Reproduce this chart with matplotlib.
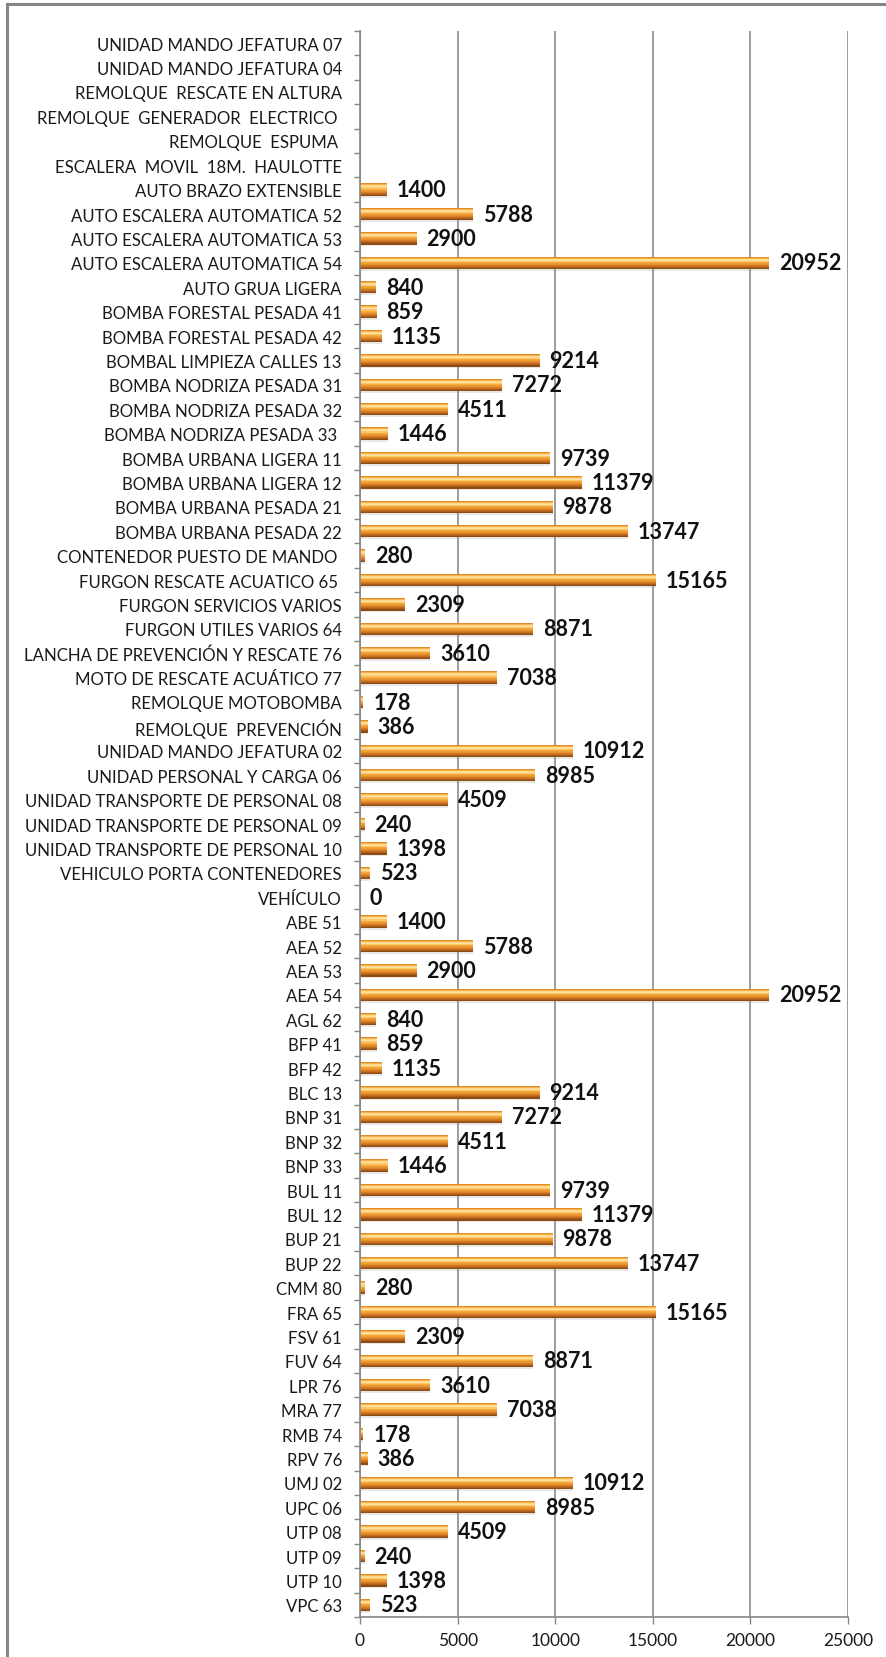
import matplotlib.pyplot as plt
import numpy as np
from matplotlib.lines import Line2D

categories = [
    'UNIDAD MANDO JEFATURA 07',
    'UNIDAD MANDO JEFATURA 04',
    'REMOLQUE  RESCATE EN ALTURA',
    'REMOLQUE  GENERADOR  ELECTRICO ',
    'REMOLQUE  ESPUMA ',
    'ESCALERA  MOVIL  18M.  HAULOTTE',
    'AUTO BRAZO EXTENSIBLE',
    'AUTO ESCALERA AUTOMATICA 52',
    'AUTO ESCALERA AUTOMATICA 53',
    'AUTO ESCALERA AUTOMATICA 54',
    'AUTO GRUA LIGERA',
    'BOMBA FORESTAL PESADA 41',
    'BOMBA FORESTAL PESADA 42',
    'BOMBAL LIMPIEZA CALLES 13',
    'BOMBA NODRIZA PESADA 31',
    'BOMBA NODRIZA PESADA 32',
    'BOMBA NODRIZA PESADA 33 ',
    'BOMBA URBANA LIGERA 11',
    'BOMBA URBANA LIGERA 12',
    'BOMBA URBANA PESADA 21',
    'BOMBA URBANA PESADA 22',
    'CONTENEDOR PUESTO DE MANDO ',
    'FURGON RESCATE ACUATICO 65 ',
    'FURGON SERVICIOS VARIOS',
    'FURGON UTILES VARIOS 64',
    'LANCHA DE PREVENCIÓN Y RESCATE 76',
    'MOTO DE RESCATE ACUÁTICO 77',
    'REMOLQUE MOTOBOMBA',
    'REMOLQUE  PREVENCIÓN',
    'UNIDAD MANDO JEFATURA 02',
    'UNIDAD PERSONAL Y CARGA 06',
    'UNIDAD TRANSPORTE DE PERSONAL 08',
    'UNIDAD TRANSPORTE DE PERSONAL 09',
    'UNIDAD TRANSPORTE DE PERSONAL 10',
    'VEHICULO PORTA CONTENEDORES',
    'VEHÍCULO',
    'ABE 51', 'AEA 52', 'AEA 53', 'AEA 54', 'AGL 62', 'BFP 41', 'BFP 42',
    'BLC 13', 'BNP 31', 'BNP 32', 'BNP 33', 'BUL 11', 'BUL 12', 'BUP 21',
    'BUP 22', 'CMM 80', 'FRA 65', 'FSV 61', 'FUV 64', 'LPR 76', 'MRA 77',
    'RMB 74', 'RPV 76', 'UMJ 02', 'UPC 06', 'UTP 08', 'UTP 09', 'UTP 10',
    'VPC 63',
]

# first six vehicles have no value at all (blank in the chart)
values = [None, None, None, None, None, None,
          1400, 5788, 2900, 20952, 840, 859, 1135, 9214, 7272, 4511, 1446,
          9739, 11379, 9878, 13747, 280, 15165, 2309, 8871, 3610, 7038,
          178, 386, 10912, 8985, 4509, 240, 1398, 523, 0,
          1400, 5788, 2900, 20952, 840, 859, 1135, 9214, 7272, 4511, 1446,
          9739, 11379, 9878, 13747, 280, 15165, 2309, 8871, 3610, 7038,
          178, 386, 10912, 8985, 4509, 240, 1398, 523]

xticks = [0, 5000, 10000, 15000, 20000, 25000]

W, H = 887, 1658
fig = plt.figure(figsize=(W / 100, H / 100), dpi=100)
ax = fig.add_axes([360 / W, 1 - 1618 / H, 488 / W, 1586 / H])

y = np.arange(len(categories))
vals = np.array([np.nan if v is None else v for v in values], dtype=float)
v = np.nan_to_num(vals)

# cylinder look: soft shadow, then thin horizontal slices from top to bottom
bar_h = 0.5
ax.barh(y + 0.08, v, height=bar_h, color='#9a9a9a', alpha=0.22, linewidth=0)
profile = ['#E08A28', '#F6B24A', '#FFD88A', '#FFE0A0', '#FBC666', '#F4A83E',
           '#EE9C34', '#E58F2D', '#D67E26', '#C26D20', '#A95C19', '#8E4C14']
sl = bar_h / len(profile)
for k, c in enumerate(profile):
    ax.barh(y - bar_h / 2 + (k + 0.5) * sl, v, height=sl * 1.15, color=c, linewidth=0)

for i, val in enumerate(vals):
    if np.isnan(val):
        continue
    ax.annotate(f'{int(val)}', (val, i), xytext=(7, 0), textcoords='offset points',
                va='center', ha='left', fontsize=15.5, fontweight='bold',
                family='Lato', color='#111111')

ax.set_xlim(0, 25000)
ax.set_ylim(len(categories) - 0.5, -0.5)

ax.set_yticks(y)
ax.set_yticklabels(categories, family='Lato', fontsize=12.1, color='#1a1a1a')
ax.set_yticks(np.arange(len(categories) + 1) - 0.5, minor=True)
ax.tick_params(axis='y', which='major', length=0, pad=13)
ax.tick_params(axis='y', which='minor', length=4.5, width=1, color='#868686')

ax.set_xticks(xticks)
ax.set_xticklabels([str(t) for t in xticks], family='Lato', fontsize=12.5, color='#1a1a1a')
ax.tick_params(axis='x', length=5, width=1, color='#868686', pad=6)

ax.grid(axis='x', color='#8c8c8c', linewidth=1.2)
ax.set_axisbelow(True)
for s in ['top', 'right']:
    ax.spines[s].set_visible(False)
for s in ['left', 'bottom']:
    ax.spines[s].set_color('#868686')
    ax.spines[s].set_linewidth(1.2)

# outer chart frame (only top and left edges visible)
fig.add_artist(Line2D([7 / W, 7 / W], [0, 1 - 5 / H], transform=fig.transFigure,
                      color='#868686', lw=2.2))
fig.add_artist(Line2D([7 / W, 1], [1 - 5 / H, 1 - 5 / H], transform=fig.transFigure,
                      color='#868686', lw=2.2))

fig.savefig('out.png', dpi=100)
